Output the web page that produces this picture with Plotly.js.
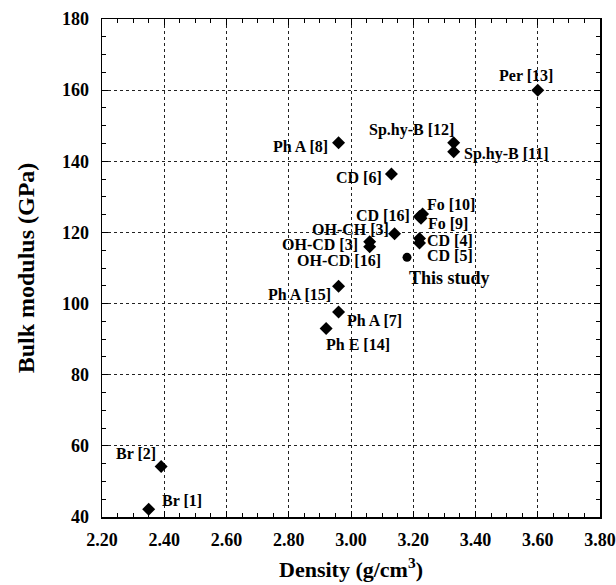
<!DOCTYPE html>
<html>
<head>
<meta charset="utf-8">
<script src="https://cdn.plot.ly/plotly-3.0.1.min.js"></script>
<style>html,body{margin:0;padding:0;background:#fff;}#chart{width:616px;height:585px;}</style>
</head>
<body>
<div id="chart"></div>
<script>
// Data
const labels = ["Br [1]","Br [2]","Ph E [14]","Ph A [7]","Ph A [15]","Ph A [8]","OH-CD [3]","OH-CD [16]","OH-CH [3]","CD [6]","CD [16]","Fo [10]","Fo [9]","CD [4]","CD [5]","Sp.hy-B [12]","Sp.hy-B [11]","Per [13]"];
const density = [2.35, 2.39, 2.92, 2.96, 2.96, 2.96, 3.06, 3.06, 3.14, 3.13, 3.22, 3.23, 3.225, 3.22, 3.22, 3.33, 3.33, 3.60];
const bulkModulus = [42.2, 54.2, 93.0, 97.6, 104.9, 145.2, 117.4, 116.0, 119.6, 136.4, 124.5, 125.2, 124.0, 118.3, 117.0, 145.2, 142.7, 160.0];
const studyLabel = ["This study"];
const studyDensity = [3.18];
const studyBulk = [113.0];

// Label offsets in pixels (layout only)
const labelShift = [[33,9],[-25,13],[32,-16],[36,-8],[-39,-8],[-38,-4],[-50,-3],[-31,-14],[-44,4],[-32,-3],[-36,1],[28,9],[27,-5],[31,-2],[31,-12],[-42,13],[52,-2],[-12,15]];
const studyShift = [42,-21];

const FONT = "Liberation Serif, Times New Roman, serif";

const traces = [
  {x: density, y: bulkModulus, mode: "markers", type: "scatter",
   marker: {symbol: "diamond", size: 10, color: "#000"}, hoverinfo: "skip"},
  {x: studyDensity, y: studyBulk, mode: "markers", type: "scatter",
   marker: {symbol: "circle", size: 9, color: "#000"}, hoverinfo: "skip"}
];

const annotations = labels.map((t, i) => ({
  x: density[i], y: bulkModulus[i], text: t, showarrow: false,
  xanchor: "center", yanchor: "middle",
  xshift: labelShift[i][0], yshift: labelShift[i][1],
  font: {family: FONT, size: 16, color: "#000", weight: "bold"}
}));
annotations.push({
  x: studyDensity[0], y: studyBulk[0], text: studyLabel[0], showarrow: false,
  xanchor: "center", yanchor: "middle", xshift: studyShift[0], yshift: studyShift[1],
  font: {family: FONT, size: 18, color: "#000", weight: "bold"}
});

const axisCommon = {
  showline: true, linecolor: "#000", linewidth: 1.5, mirror: "allticks",
  ticks: "inside", ticklen: 6, tickwidth: 1, tickcolor: "#000",
  showgrid: true, gridcolor: "#222", gridwidth: 1, griddash: "dot",
  zeroline: false,
  tickfont: {family: FONT, size: 18, color: "#000", weight: "bold"}
};

const layout = {
  width: 616, height: 585,
  margin: {l: 102, r: 16, t: 19, b: 68},
  paper_bgcolor: "#fff", plot_bgcolor: "#fff",
  showlegend: false,
  xaxis: Object.assign({}, axisCommon, {
    range: [2.2, 3.8], dtick: 0.2, tick0: 2.2, tickformat: ".2f",
    minor: {ticks: "inside", ticklen: 4, dtick: 0.05, tickcolor: "#000", showgrid: false},
    ticklabelstandoff: 6,
    title: {text: "Density (g/cm<sup>3</sup>)", standoff: 12,
            font: {family: FONT, size: 22, color: "#000", weight: "bold"}}
  }),
  yaxis: Object.assign({}, axisCommon, {
    range: [40, 180], dtick: 20, tick0: 40,
    minor: {ticks: "inside", ticklen: 4, dtick: 5, tickcolor: "#000", showgrid: false},
    ticklabelstandoff: 8,
    title: {text: "Bulk modulus (GPa)", standoff: 20,
            font: {family: FONT, size: 24, color: "#000", weight: "bold"}}
  }),
  annotations: annotations
};

Plotly.newPlot("chart", traces, layout, {displayModeBar: false, staticPlot: true});
</script>
</body>
</html>
